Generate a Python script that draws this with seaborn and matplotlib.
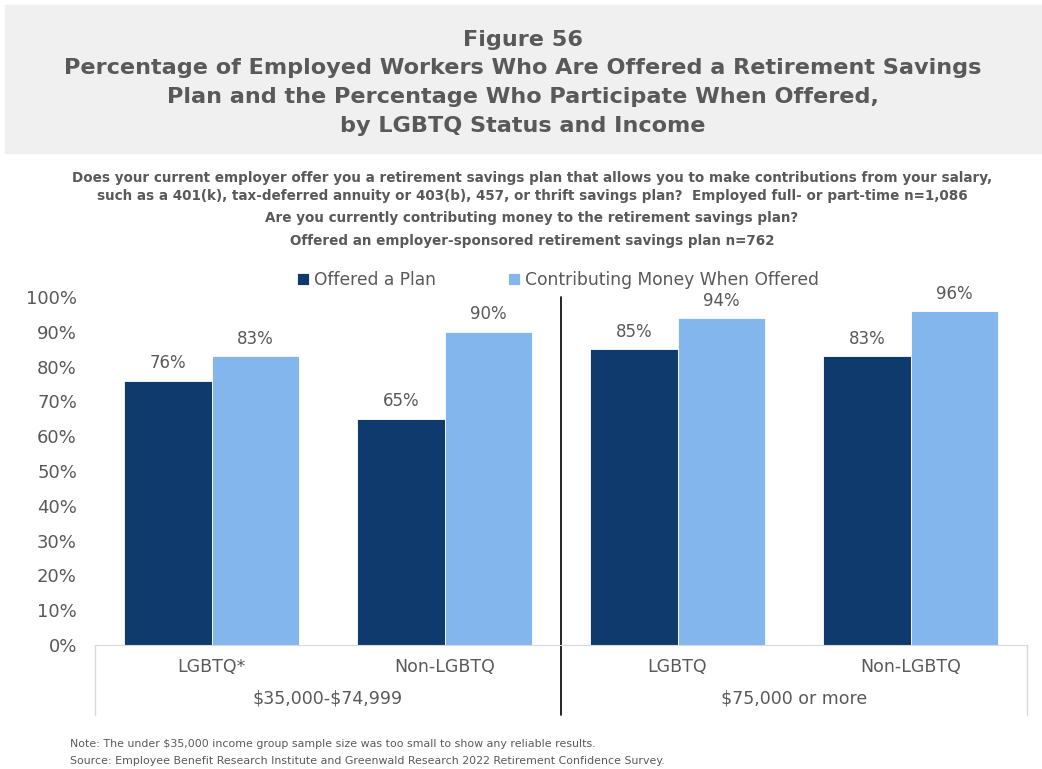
import pandas as pd
import seaborn as sns
import matplotlib.pyplot as plt
from matplotlib.patches import Rectangle

# chart values
groups = ["LGBTQ*", "Non-LGBTQ", "LGBTQ", "Non-LGBTQ"]
group_keys = ["lo_lgbtq", "lo_non", "hi_lgbtq", "hi_non"]
incomes = [r"\$35,000-\$74,999", r"\$75,000 or more"]
series = ["Offered a Plan", "Contributing Money When Offered"]
offered = [76, 65, 85, 83]
contributing = [83, 90, 94, 96]
ytick_vals = [0, 10, 20, 30, 40, 50, 60, 70, 80, 90, 100]

df = pd.DataFrame({
    "key": group_keys * 2,
    "series": [series[0]] * 4 + [series[1]] * 4,
    "value": offered + contributing,
})

grey = "#595959"
colors = ["#0E3A6E", "#84B6EE"]

sns.set_style("white")
plt.rcParams["font.family"] = ["DejaVu Sans"]

W, H = 1042, 769
fig = plt.figure(figsize=(W / 100, H / 100), dpi=100)

# title banner
fig.patches.append(Rectangle((5 / W, 1 - 153 / H), 1, 148 / H, transform=fig.transFigure,
                             color="#F0F0F0", zorder=0))
title_lines = ["Figure 56",
               "Percentage of Employed Workers Who Are Offered a Retirement Savings",
               "Plan and the Percentage Who Participate When Offered,",
               "by LGBTQ Status and Income"]
for i, line in enumerate(title_lines):
    fig.text(523 / W, 1 - (40 + i * 28.5) / H, line, ha="center", va="center",
             fontsize=16.1, fontweight="bold", color=grey)

sub_lines = [(178, "Does your current employer offer you a retirement savings plan that allows you to make contributions from your salary,"),
             (196, "such as a 401(k), tax-deferred annuity or 403(b), 457, or thrift savings plan?  Employed full- or part-time n=1,086"),
             (218, "Are you currently contributing money to the retirement savings plan?"),
             (241, "Offered an employer-sponsored retirement savings plan n=762")]
for y, line in sub_lines:
    fig.text(532 / W, 1 - y / H, line, ha="center", va="center",
             fontsize=9.75, fontweight="bold", color=grey)

ax = fig.add_axes([95 / W, 1 - 645 / H, 932 / W, 348 / H])
sns.barplot(data=df, x="key", y="value", hue="series", order=group_keys,
            hue_order=series, palette=colors, width=0.75, saturation=1,
            edgecolor="white", linewidth=0.6, ax=ax)

for cont in ax.containers:
    ax.bar_label(cont, fmt="%d%%", padding=6, fontsize=12, color=grey)

ax.set_ylim(0, 100)
ax.set_xlim(-0.5, 3.5)
ax.set_yticks(ytick_vals)
ax.set_yticklabels([f"{v}%" for v in ytick_vals], fontsize=13, color=grey)
ax.tick_params(axis="y", length=0, pad=13)
ax.set_xticks(range(4))
ax.set_xticklabels(groups, fontsize=12.5, color=grey)
ax.tick_params(axis="x", length=0, pad=9)
ax.set_xlabel("")
ax.set_ylabel("")
for s in ["top", "right", "left"]:
    ax.spines[s].set_visible(False)
ax.spines["bottom"].set_color("#D9D9D9")

# category box lines and income labels
trans = ax.get_xaxis_transform()
for x in [-0.5, 3.5]:
    ax.plot([x, x], [0, -70 / 348], color="#D9D9D9", lw=1, transform=trans, clip_on=False)
ax.plot([1.5, 1.5], [1.0, -70 / 348], color="black", lw=1.2, transform=trans, clip_on=False)
for xc, lab in zip([0.5, 2.5], incomes):
    ax.text(xc, -53 / 348, lab, transform=trans, ha="center", va="center",
            fontsize=12.5, color=grey)

ax.legend(loc="center", bbox_to_anchor=(0.497, 1 + 17 / 348), ncol=2, frameon=False,
          fontsize=12.3, handlelength=0.7, handleheight=0.7, handletextpad=0.3,
          columnspacing=4.2, labelcolor=grey, borderaxespad=0)

fig.text(70 / W, 1 - 744 / H, r"Note: The under \$35,000 income group sample size was too small to show any reliable results.",
         fontsize=7.9, color=grey, va="center")
fig.text(70 / W, 1 - 761 / H, "Source: Employee Benefit Research Institute and Greenwald Research 2022 Retirement Confidence Survey.",
         fontsize=7.9, color=grey, va="center")

fig.savefig("out.png", dpi=100)
